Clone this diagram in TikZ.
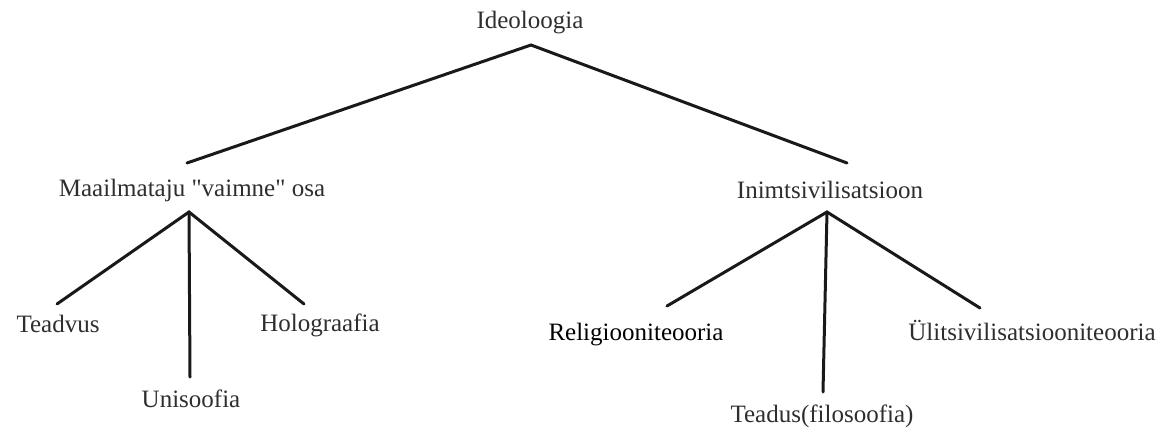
\documentclass[tikz,border=0pt]{standalone}
\usepackage{fontspec}
\setmainfont{Liberation Serif}[Ligatures=TeXOff]
\begin{document}
\begin{tikzpicture}[x=1pt,y=-1pt,
  lbl/.style={inner sep=0pt, text=black!82, font=\fontsize{25}{28}\selectfont},
  edge/.style={line width=3pt, line cap=round, black!90}]
\useasboundingbox (0,0) rectangle (1173,432);
% labels
\node[lbl] (ideo) at (530,23) {Ideoloogia};
\node[lbl] (maa) at (192,190) {Maailmataju "vaimne" osa};
\node[lbl] (inim) at (830,190) {Inimtsivilisatsioon};
\node[lbl] (teadvus) at (58,324) {Teadvus};
\node[lbl] (uni) at (191,399) {Unisoofia};
\node[lbl] (holo) at (320,325) {Holograafia};
\node[lbl, text=black] (rel) at (636,335) {Religiooniteooria};
\node[lbl] (yli) at (1032,330) {Ülitsivilisatsiooniteooria};
\node[lbl] (teadus) at (822,416) {Teadus(filosoofia)};
% junction points and line ends
\coordinate (top) at (531,45);
\coordinate (maaend) at (187,163);
\coordinate (inimend) at (847,163);
\coordinate (jl) at (189,212);
\coordinate (teadvusend) at (57,304);
\coordinate (uniend) at (190,377);
\coordinate (holoend) at (304,304);
\coordinate (jr) at (827,212);
\coordinate (relend) at (667,306);
\coordinate (teadusend) at (823,392);
\coordinate (yliend) at (980,308);
% connectors
\draw[edge] (maaend) -- (top) -- (inimend);
\draw[edge] (teadvusend) -- (jl) -- (holoend);
\draw[edge] (jl) -- (uniend);
\draw[edge] (relend) -- (jr) -- (yliend);
\draw[edge] (jr) -- (teadusend);
\end{tikzpicture}
\end{document}
